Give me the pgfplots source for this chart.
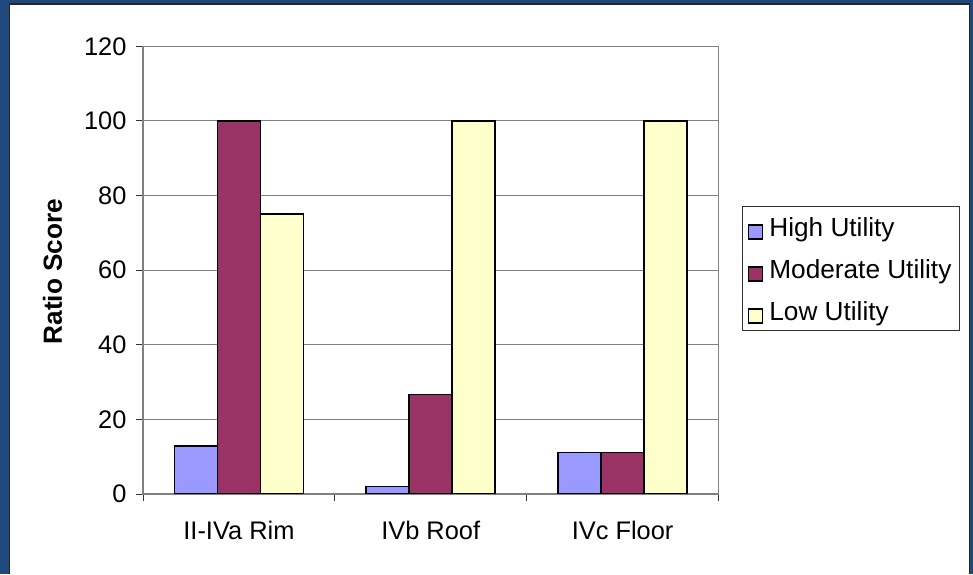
\documentclass[border=0pt]{standalone}
\usepackage{pgfplots}
\pgfplotsset{compat=1.18}
\usepackage{fontspec}
\setmainfont{Liberation Sans}
\definecolor{frameblue}{RGB}{31,73,125}
\definecolor{hiblue}{RGB}{153,153,255}
\definecolor{modmaroon}{RGB}{153,51,102}
\definecolor{lowyellow}{RGB}{255,255,204}
\definecolor{gridgray}{RGB}{128,128,128}
\begin{document}
\begin{tikzpicture}
\fill[frameblue] (0,0) rectangle (973bp,574bp);
\fill[white] (10bp,0) rectangle (969bp,569.5bp);
\draw[black!85, line width=1.2bp] (9.6bp,0) -- (9.6bp,569.9bp) -- (969.4bp,569.9bp) -- (969.4bp,0);
\begin{axis}[
  at={(143bp,80bp)}, anchor=south west,
  scale only axis,
  width=575.5bp, height=447.6bp,
  ybar=0pt, bar width=43bp,
  xmin=-0.5, xmax=2.5,
  ymin=0, ymax=120,
  ytick={0,20,...,120},
  xtick={0,1,2},
  xticklabels={II-IVa Rim, IVb Roof, IVc Floor},
  minor xtick={-0.5,0.5,1.5,2.5},
  major x tick style={draw=none},
  xtick pos=bottom, ytick pos=left,
  tick align=outside,
  major tick length=7bp, minor tick length=7bp,
  tick style={black!80, line width=1bp},
  ymajorgrids,
  major grid style={gridgray, line width=1bp},
  axis line style={gridgray, line width=1.2bp},
  /pgf/number format/assume math mode=true,
  tick label style={font=\fontsize{25.5}{30}\selectfont},
  yticklabel style={xshift=-6bp},
  xticklabel style={yshift=-17bp},
  ylabel={\textbf{Ratio Score}},
  ylabel style={font=\fontsize{26.3}{31}\selectfont, at={(rel axis cs:-0.1573,0.4967)}, anchor=center},
  legend style={at={(1.0403,0.6425)}, anchor=north west,
    draw=black!80, line width=1bp, inner sep=6bp,
    font=\fontsize{26.3}{31}\selectfont,
    row sep=14bp, column sep=4bp,
    nodes={inner sep=2bp, text height=22bp, text depth=2bp}},
  legend cell align=left,
  legend image code/.code={\draw[#1, line width=1.2bp] (0bp,-12bp) rectangle (14bp,2bp);},
]
\addplot[fill=hiblue, draw=black, line width=1.8bp] coordinates {(0,12.8) (1,2) (2,11.1)};
\addplot[fill=modmaroon, draw=black, line width=1.8bp] coordinates {(0,100) (1,26.7) (2,11.1)};
\addplot[fill=lowyellow, draw=black, line width=1.8bp] coordinates {(0,75) (1,100) (2,100)};
\legend{High Utility, Moderate Utility, Low Utility}
\end{axis}
\end{tikzpicture}
\end{document}
